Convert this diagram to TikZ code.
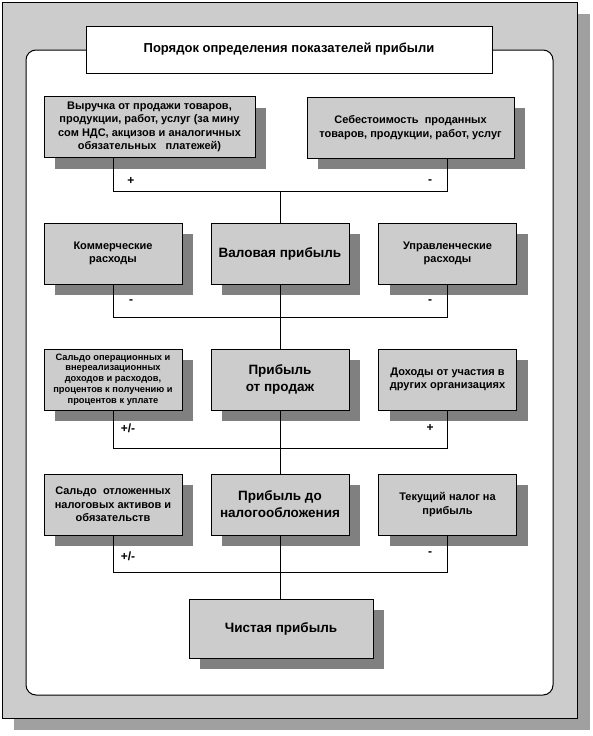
\documentclass[tikz,border=0pt]{standalone}
\usepackage{fontspec}
\setmainfont{Liberation Sans}
\usetikzlibrary{shadows}
\definecolor{boxgray}{HTML}{CCCCCC}
\definecolor{shadegray}{HTML}{808080}
\definecolor{framegray}{HTML}{A0A0A0}
\begin{document}
\begin{tikzpicture}[x=1pt,y=-1pt,
                    line width=1pt,
                    every node/.style={font=\bfseries}]
    \tikzstyle{box}=[draw, fill=boxgray, inner sep=0pt, align=center,
                     drop shadow={shadow xshift=11pt, shadow yshift=-11pt, fill=shadegray, opacity=1},
                     font=\bfseries\fontsize{11}{13.5}\selectfont]
    \tikzstyle{wide}=[box, minimum height=61pt]
    \tikzstyle{small}=[box, minimum width=138pt, minimum height=61pt]
    \tikzstyle{main}=[small, font=\bfseries\fontsize{13.5}{17}\selectfont]
    \tikzstyle{tiny}=[small, font=\bfseries\fontsize{9.3}{10.8}\selectfont]
    \tikzstyle{sign}=[inner sep=0pt, font=\bfseries\fontsize{12}{13}\selectfont]

    \useasboundingbox (0,0) rectangle (592,736);

    % frame
    \fill[framegray] (14,14) rectangle (590,730);
    \draw[fill=boxgray] (2,2) rectangle (577,718);
    \draw[fill=white, rounded corners=10pt] (26,50) rectangle (553,695);
    \node[draw, fill=white, minimum width=406pt, minimum height=47pt, inner sep=0pt,
          font=\bfseries\fontsize{13}{15}\selectfont] (title) at (289,49.5)
          {Порядок определения показателей прибыли};

    % row 1
    \node[wide, minimum width=211pt] (vyr) at (149.5,127)
          {Выручка от продажи товаров,\\продукции, работ, услуг (за мину\\сом НДС, акцизов и аналогичных\\обязательных \ \ платежей)};
    \node[wide, minimum width=207pt] (seb) at (410.5,127.5)
          {Себестоимость \ проданных\\товаров, продукции, работ, услуг};

    % row 2
    \node[small] (kom) at (113,253.5) {Коммерческие\\расходы};
    \node[main]  (val) at (280,253.5) {Валовая прибыль};
    \node[small] (upr) at (447.5,253.5) {Управленческие\\расходы};

    % row 3
    \node[tiny]  (sop) at (113,379.5) {Сальдо операционных и\\внереализационных\\доходов и расходов,\\процентов к получению и\\процентов к уплате};
    \node[main]  (prod) at (280,379.5) {Прибыль\\от продаж};
    \node[small] (doh) at (447.5,379.5) {Доходы от участия в\\других организациях};

    % row 4
    \node[small] (otl) at (113,504.5) {Сальдо \ отложенных\\налоговых активов и\\обязательств};
    \node[main]  (dono) at (280,504.5) {Прибыль до\\налогообложения};
    \node[small] (nal) at (447.5,504.5) {Текущий налог на\\прибыль};

    % result
    \node[main, minimum width=184pt, minimum height=59pt] (chist) at (281,628.5) {Чистая прибыль};

    % junctions
    \coordinate (a1) at (113,191);  \coordinate (b1) at (447.5,191);  \coordinate (m1) at (280,191);
    \coordinate (a2) at (113,317);  \coordinate (b2) at (447.5,317);
    \coordinate (a3) at (113,448);  \coordinate (b3) at (447.5,448);
    \coordinate (a4) at (113,572);  \coordinate (b4) at (447.5,572);

    % connectors
    \draw (vyr.south -| a1) -- (a1) -- (b1) -- (seb.south -| b1);
    \draw (m1) -- (val.north);
    \draw (kom.south) -- (a2) -- (b2) -- (upr.south);
    \draw (val.south) -- (prod.north);
    \draw (sop.south) -- (a3) -- (b3) -- (doh.south);
    \draw (prod.south) -- (dono.north);
    \draw (otl.south) -- (a4) -- (b4) -- (nal.south);
    \draw (dono.south) -- (chist.north -| dono.south);

    % signs
    \node[sign] (s1l) at (131,181) {+};
    \node[sign] (s1r) at (430,182) {-};
    \node[sign] (s2l) at (131,302) {-};
    \node[sign] (s2r) at (430,302) {-};
    \node[sign] (s3l) at (128,428) {+/-};
    \node[sign] (s3r) at (430,428) {+};
    \node[sign] (s4l) at (128,556) {+/-};
    \node[sign] (s4r) at (430,554) {-};
\end{tikzpicture}
\end{document}
